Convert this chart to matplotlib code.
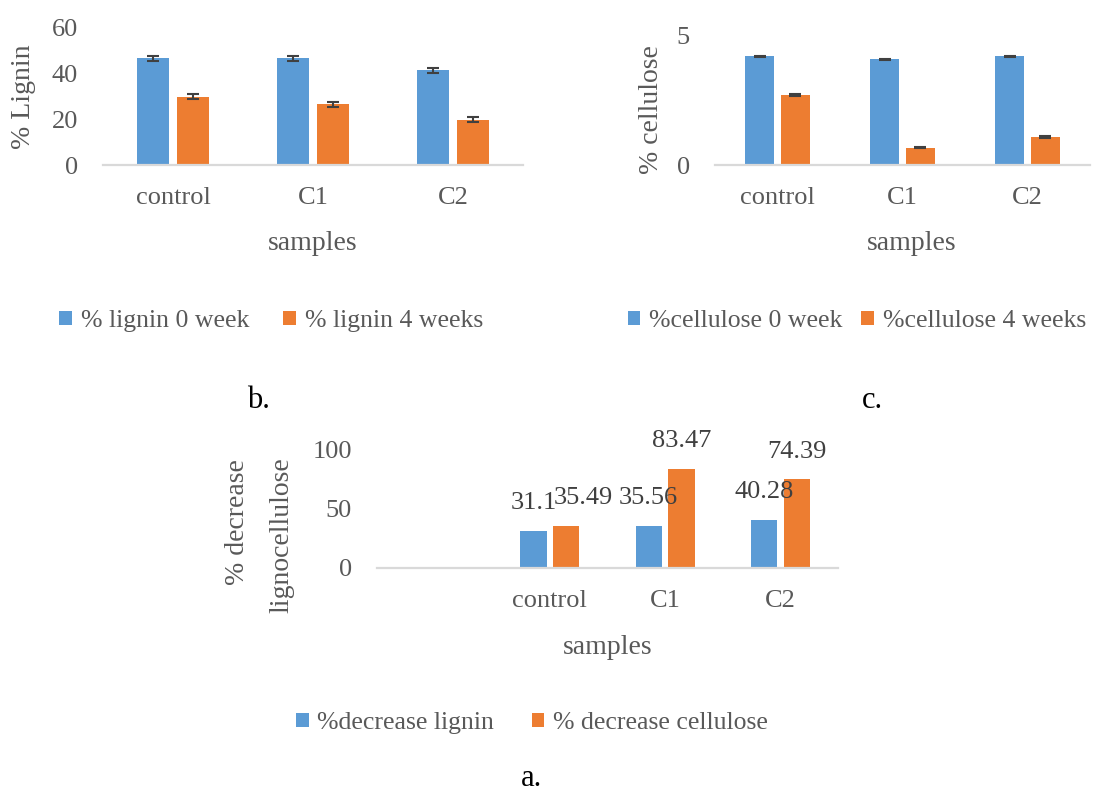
import matplotlib
matplotlib.use("Agg")
import matplotlib.pyplot as plt
import numpy as np
from matplotlib.patches import Patch

# ---------------- data ----------------
samples = ["control", "C1", "C2"]

lignin_0wk = [46.4, 46.4, 41.2]
lignin_4wk = [29.6, 26.4, 19.7]
lignin_0wk_err = [1.1, 1.1, 1.1]
lignin_4wk_err = [1.1, 1.1, 1.1]

cellulose_0wk = [4.20, 4.08, 4.20]
cellulose_4wk = [2.70, 0.67, 1.08]
cellulose_0wk_err = [0.03, 0.03, 0.03]
cellulose_4wk_err = [0.03, 0.03, 0.03]

decrease_categories = ["", "control", "C1", "C2"]
decrease_lignin = [None, 31.1, 35.56, 40.28]
decrease_cellulose = [None, 35.49, 83.47, 74.39]

# ---------------- style ----------------
BLUE = "#5B9BD5"
ORANGE = "#ED7D31"
TXT = "#595959"
AXC = "#D9D9D9"
FONT = ["Liberation Serif", "DejaVu Serif"]
plt.rcParams["font.family"] = FONT
TICK_FS = 19
TITLE_FS = 20
LEG_FS = 18.5

W, H = 1100, 793
fig = plt.figure(figsize=(W / 100, H / 100), dpi=100)


def px_axes(x0, x1, y_top, y_bot):
    return fig.add_axes([x0 / W, (H - y_bot) / H, (x1 - x0) / W, (y_bot - y_top) / H])


def fxy(px, py):
    return px / W, 1 - py / H


def style(ax, ymax, yticks):
    for s in ["top", "right", "left"]:
        ax.spines[s].set_visible(False)
    ax.spines["bottom"].set_color(AXC)
    ax.spines["bottom"].set_linewidth(1.6)
    ax.set_ylim(0, ymax)
    ax.set_yticks(yticks)
    ax.tick_params(axis="both", length=0, labelsize=TICK_FS, labelcolor=TXT)
    ax.tick_params(axis="y", pad=18)
    ax.tick_params(axis="x", pad=16)


def legend(ax, labels, anchor, spacing):
    handles = [Patch(facecolor=BLUE), Patch(facecolor=ORANGE)]
    leg = ax.legend(handles, labels, loc="center", bbox_to_anchor=fxy(*anchor),
                    bbox_transform=fig.transFigure, ncol=2, frameon=False,
                    handlelength=0.5, handleheight=0.5, handletextpad=0.35,
                    columnspacing=spacing, prop={"size": LEG_FS, "family": FONT})
    for t in leg.get_texts():
        t.set_color(TXT)


def ftext(px, py, s, **kw):
    fig.text(*fxy(px, py), s, ha="center", va="center", **kw)


ekw = dict(ecolor="#404040", elinewidth=1.5, capsize=4.5, capthick=1.5)
bw = 0.228
off = 0.143

# ---------------- panel b ----------------
axb = px_axes(103, 523, 27, 165)
x = np.arange(len(samples))
axb.bar(x - off, lignin_0wk, bw, color=BLUE, yerr=lignin_0wk_err, error_kw=ekw)
axb.bar(x + off, lignin_4wk, bw, color=ORANGE, yerr=lignin_4wk_err, error_kw=ekw)
axb.set_xlim(-0.5, len(samples) - 0.5)
axb.set_xticks(x)
axb.set_xticklabels(samples)
style(axb, 60, [0, 20, 40, 60])
ftext(24, 97, "% Lignin", rotation=90, fontsize=TITLE_FS, color=TXT)
ftext(313, 243, "samples", fontsize=TITLE_FS, color=TXT)
legend(axb, ["% lignin 0 week", "% lignin 4 weeks"], (271, 321), 1.3)

# ---------------- panel c ----------------
axc = px_axes(715, 1090, 35.7, 165)
axc.bar(x - off, cellulose_0wk, bw, color=BLUE, yerr=cellulose_0wk_err, error_kw=ekw)
axc.bar(x + off, cellulose_4wk, bw, color=ORANGE, yerr=cellulose_4wk_err, error_kw=ekw)
axc.set_xlim(-0.5, len(samples) - 0.5)
axc.set_xticks(x)
axc.set_xticklabels(samples)
style(axc, 5, [0, 5])
ftext(651, 110, "% cellulose", rotation=90, fontsize=TITLE_FS, color=TXT)
ftext(912, 243, "samples", fontsize=TITLE_FS, color=TXT)
legend(axc, ["%cellulose 0 week", "%cellulose 4 weeks"], (857, 321), 0.72)

# ---------------- panel a ----------------
axa = px_axes(377, 838, 449, 568)
xa = np.arange(len(decrease_categories))
dl = [np.nan if v is None else v for v in decrease_lignin]
dc = [np.nan if v is None else v for v in decrease_cellulose]
axa.bar(xa - off, dl, bw, color=BLUE)
axa.bar(xa + off, dc, bw, color=ORANGE)
axa.set_xlim(-0.5, len(decrease_categories) - 0.5)
axa.set_xticks(xa)
axa.set_xticklabels(decrease_categories)
style(axa, 100, [0, 50, 100])
ftext(608, 647, "samples", fontsize=TITLE_FS, color=TXT)
ftext(238, 522, "% decrease", rotation=90, fontsize=TITLE_FS, color=TXT)
ftext(282, 535, "lignocellulose", rotation=90, fontsize=TITLE_FS, color=TXT)
nudge = {(1, 1): 17}
for i in range(len(decrease_categories)):
    for j, (vals, sgn) in enumerate([(decrease_lignin, -1), (decrease_cellulose, 1)]):
        v = vals[i]
        if v is None:
            continue
        axa.annotate(f"{v:g}", (xa[i] + sgn * off, v), xytext=(nudge.get((i, j), 0) * 0.72, 20),
                     textcoords="offset points", ha="center", va="center", fontsize=19, color="#404040")
legend(axa, ["%decrease lignin", "% decrease cellulose"], (532, 723), 1.45)

# ---------------- panel letters ----------------
ftext(258, 400, "b.", fontsize=22, color="black")
ftext(872, 400, "c.", fontsize=22, color="black")
ftext(531, 778, "a.", fontsize=22, color="black")

fig.savefig("out.png", dpi=100, facecolor="white")
